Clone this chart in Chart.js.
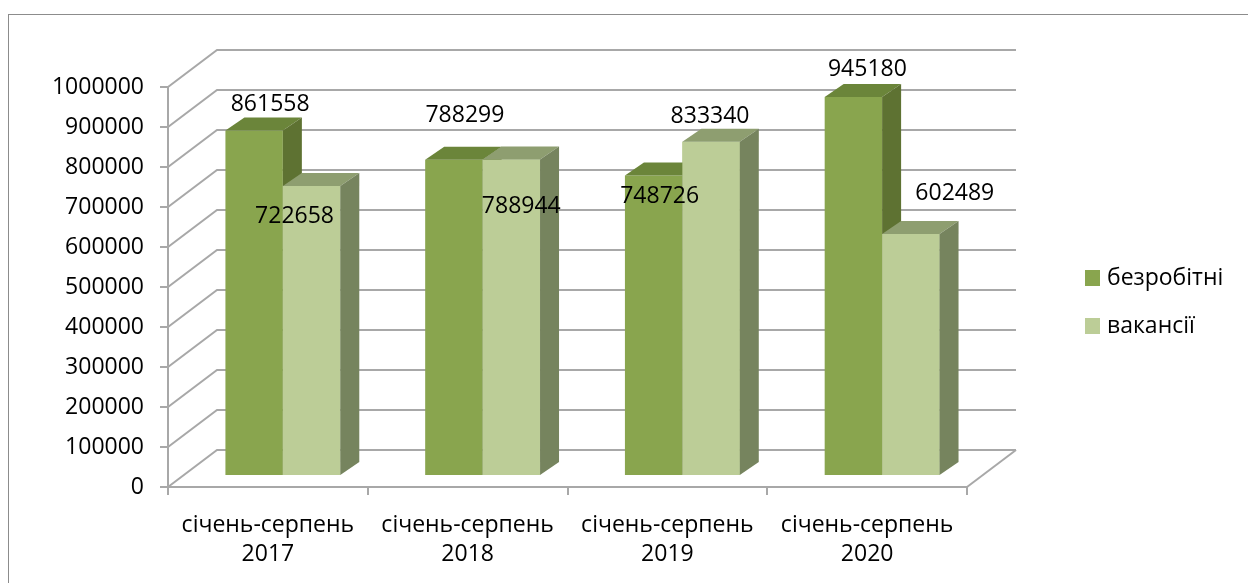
<!DOCTYPE html>
<html lang="uk">
<head>
  <meta charset="UTF-8">
  <title>Безробітні та вакансії</title>
  <script src="https://cdn.jsdelivr.net/npm/chart.js"></script>
  <style>
    html, body {
      margin: 0;
      padding: 0;
      background: #fff;
      overflow: hidden;
    }
    .wrap {
      position: relative;
      width: 1248px;
      height: 583px;
    }
    /* outer chart frame, right and bottom edges fall outside the picture */
    .frame {
      position: absolute;
      left: 8px;
      top: 14px;
      width: 1300px;
      height: 700px;
      border: 1px solid #8c8c8c;
    }
    #chart {
      position: absolute;
      left: 0;
      top: 0;
    }
  </style>
</head>
<body>
  <div class="wrap">
    <div class="frame"></div>
    <canvas id="chart" width="1248" height="583"></canvas>
  </div>

  <script>
    // ----- data -----
    const categories = [
      ['січень-серпень', '2017'],
      ['січень-серпень', '2018'],
      ['січень-серпень', '2019'],
      ['січень-серпень', '2020']
    ];
    const seriesNames = ['безробітні', 'вакансії'];
    const unemployed = [861558, 788299, 748726, 945180];
    const vacancies = [722658, 788944, 833340, 602489];
    const yMin = 0;
    const yMax = 1000000;
    const yStep = 100000;

    // ----- look -----
    const FONT = '"Open Sans", "Noto Sans", sans-serif';
    const FONT_SIZE = 23;
    const gridColor = '#a8a8a8';
    const frontColors = ['#89a54e', '#bccd97'];
    const topColors = ['#6b853a', '#8e9e70'];
    const sideColors = ['#5e7232', '#76845e'];
    const WALL = { dx: 49, dy: -37 };   // depth of the back wall
    const BAR = { dx: 19, dy: -13 };    // depth of one bar
    // where Excel left each value label, relative to the bar's front top
    const labelShift = [
      [[16, -26], [11, -44], [6, 21], [14, -27]],
      [[-17, 31], [10, 47], [-1, -25], [44, -41]]
    ];

    function drawFaces(ctx, el, di) {
      const { x, y, base, width } = el.getProps(['x', 'y', 'base', 'width'], true);
      const l = x - width / 2;
      const r = x + width / 2;
      // top face
      ctx.fillStyle = topColors[di];
      ctx.beginPath();
      ctx.moveTo(l, y);
      ctx.lineTo(r, y);
      ctx.lineTo(r + BAR.dx, y + BAR.dy);
      ctx.lineTo(l + BAR.dx, y + BAR.dy);
      ctx.closePath();
      ctx.fill();
      // side face
      ctx.fillStyle = sideColors[di];
      ctx.beginPath();
      ctx.moveTo(r, y);
      ctx.lineTo(r + BAR.dx, y + BAR.dy);
      ctx.lineTo(r + BAR.dx, base + BAR.dy);
      ctx.lineTo(r, base);
      ctx.closePath();
      ctx.fill();
    }

    const depth3d = {
      id: 'depth3d',
      beforeDatasetsDraw(chart) {
        const { ctx, chartArea: a, scales: { y } } = chart;
        ctx.save();
        ctx.strokeStyle = gridColor;
        ctx.lineWidth = 2;
        y.ticks.forEach(t => {
          const py = y.getPixelForValue(t.value);
          ctx.beginPath();
          ctx.moveTo(a.left, py);
          ctx.lineTo(a.left + WALL.dx, py + WALL.dy);
          ctx.lineTo(a.right + WALL.dx, py + WALL.dy);
          ctx.stroke();
        });
        // right edge of the floor
        ctx.beginPath();
        ctx.moveTo(a.right, a.bottom);
        ctx.lineTo(a.right + WALL.dx, a.bottom + WALL.dy);
        ctx.stroke();
        ctx.restore();
      },
      afterDatasetsDraw(chart) {
        const ctx = chart.ctx;
        ctx.save();
        // depth faces, first series then second so the second hides the first's side
        chart.data.datasets.forEach((ds, di) => {
          chart.getDatasetMeta(di).data.forEach(el => {
            if (di > 0) el.draw(ctx);
            drawFaces(ctx, el, di);
          });
        });
        // value labels
        ctx.font = FONT_SIZE + 'px ' + FONT;
        ctx.fillStyle = '#000';
        ctx.textAlign = 'center';
        ctx.textBaseline = 'middle';
        chart.data.datasets.forEach((ds, di) => {
          chart.getDatasetMeta(di).data.forEach((el, i) => {
            const s = labelShift[di][i];
            ctx.fillText(String(ds.data[i].y), el.x + s[0], el.y + s[1]);
          });
        });
        ctx.restore();
      },
      afterDraw(chart) {
        // legend at the right
        const ctx = chart.ctx;
        const a = chart.chartArea;
        const lx = a.right + 118;
        const rows = [278, 326];
        ctx.save();
        ctx.font = FONT_SIZE + 'px ' + FONT;
        ctx.textAlign = 'left';
        ctx.textBaseline = 'middle';
        chart.data.datasets.forEach((ds, di) => {
          ctx.fillStyle = frontColors[di];
          ctx.fillRect(lx, rows[di] - 8, 15, 16);
          ctx.fillStyle = '#000';
          ctx.fillText(ds.label, lx + 22, rows[di]);
        });
        ctx.restore();
      }
    };

    const toPoints = arr => arr.map((v, i) => ({ x: i, y: v }));

    new Chart(document.getElementById('chart'), {
      type: 'bar',
      data: {
        labels: categories,
        datasets: [
          {
            label: seriesNames[0],
            data: toPoints(unemployed),
            backgroundColor: frontColors[0],
            xAxisID: 'xb',
            yAxisID: 'yb',
            categoryPercentage: 0.575,
            barPercentage: 1
          },
          {
            label: seriesNames[1],
            data: toPoints(vacancies),
            backgroundColor: frontColors[1],
            xAxisID: 'xb',
            yAxisID: 'yb',
            categoryPercentage: 0.575,
            barPercentage: 1
          }
        ]
      },
      options: {
        responsive: false,
        animation: false,
        layout: { padding: { left: 0, top: 87, right: 281, bottom: 0 } },
        plugins: {
          legend: { display: false },
          tooltip: { enabled: false }
        },
        scales: {
          // front plane: axes, ticks and labels
          x: {
            type: 'category',
            offset: true,
            grid: { offset: true, drawOnChartArea: false, color: gridColor, lineWidth: 2, tickLength: 8 },
            border: { display: true, color: gridColor, width: 2 },
            ticks: {
              color: '#000',
              padding: 16,
              maxRotation: 0,
              font: { family: FONT, size: FONT_SIZE, lineHeight: 1.27 }
            },
            afterFit: s => { s.height = 96; }
          },
          y: {
            type: 'linear',
            min: yMin,
            max: yMax,
            grid: { drawOnChartArea: false, color: gridColor, lineWidth: 2, tickLength: 8 },
            border: { display: true, color: gridColor, width: 2 },
            ticks: {
              stepSize: yStep,
              color: '#000',
              padding: 16,
              font: { family: FONT, size: FONT_SIZE },
              callback: v => String(v)
            },
            afterFit: s => { s.width = 168; }
          },
          // plane of the bars, a little deeper than the front
          xb: {
            type: 'linear',
            display: false,
            offset: false,
            min: -0.575,
            max: 3.425,
            afterBuildTicks: s => { s.ticks = categories.map((c, i) => ({ value: i })); }
          },
          yb: {
            type: 'linear',
            display: false,
            min: -30000,
            max: 970000
          }
        }
      },
      plugins: [depth3d]
    });
  </script>
</body>
</html>
